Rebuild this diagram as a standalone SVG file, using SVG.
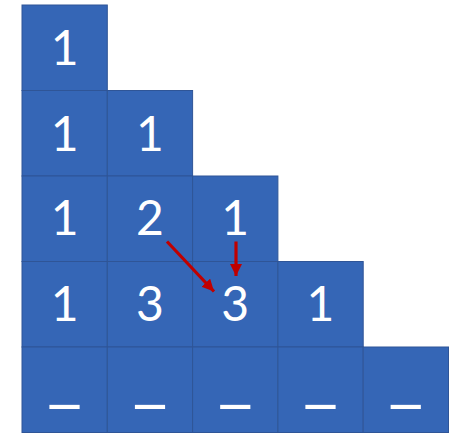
<svg xmlns="http://www.w3.org/2000/svg" width="463" height="446" viewBox="0 0 463 446">
<style>
.c{fill:#3566B6;stroke:#2F5597;stroke-width:1}
.t{font-family:Lato,"DejaVu Sans",sans-serif;font-size:48px;fill:#fff;text-anchor:middle}
.u{font-family:"DejaVu Sans",sans-serif;font-size:58px;fill:#fff;text-anchor:middle}
.a{stroke:#C00000;stroke-width:3.2;fill:none}
</style>
<defs>
<marker id="ah" markerUnits="userSpaceOnUse" markerWidth="14" markerHeight="14" refX="12" refY="6" orient="auto">
<path d="M0,0 L12,6 L0,12 Z" fill="#C00000"/>
</marker>
</defs>
<g id="r0c0"><rect class="c" x="22" y="5" width="85.3" height="85.5"/><text class="t" x="64.6" y="65">1</text></g>
<g id="r1c0"><rect class="c" x="22" y="90.5" width="85.3" height="85.5"/><text class="t" x="64.6" y="150.5">1</text></g>
<g id="r1c1"><rect class="c" x="107.3" y="90.5" width="85.3" height="85.5"/><text class="t" x="149.9" y="150.5">1</text></g>
<g id="r2c0"><rect class="c" x="22" y="176" width="85.3" height="85.5"/><text class="t" x="64.6" y="234.5">1</text></g>
<g id="r2c1"><rect class="c" x="107.3" y="176" width="85.3" height="85.5"/><text class="t" x="149.9" y="234.5">2</text></g>
<g id="r2c2"><rect class="c" x="192.6" y="176" width="85.3" height="85.5"/><text class="t" x="235.2" y="234.5">1</text></g>
<g id="r3c0"><rect class="c" x="22" y="261.5" width="85.3" height="85.5"/><text class="t" x="64.6" y="320.5">1</text></g>
<g id="r3c1"><rect class="c" x="107.3" y="261.5" width="85.3" height="85.5"/><text class="t" x="149.9" y="320.5">3</text></g>
<g id="r3c2"><rect class="c" x="192.6" y="261.5" width="85.3" height="85.5"/><text class="t" x="235.2" y="320.5">3</text></g>
<g id="r3c3"><rect class="c" x="277.9" y="261.5" width="85.3" height="85.5"/><text class="t" x="320.5" y="320.5">1</text></g>
<g id="r4c0"><rect class="c" x="22" y="347" width="85.3" height="85.5"/><text class="u" x="64.6" y="394.7">_</text></g>
<g id="r4c1"><rect class="c" x="107.3" y="347" width="85.3" height="85.5"/><text class="u" x="149.9" y="394.7">_</text></g>
<g id="r4c2"><rect class="c" x="192.6" y="347" width="85.3" height="85.5"/><text class="u" x="235.2" y="394.7">_</text></g>
<g id="r4c3"><rect class="c" x="277.9" y="347" width="85.3" height="85.5"/><text class="u" x="320.5" y="394.7">_</text></g>
<g id="r4c4"><rect class="c" x="363.2" y="347" width="85.3" height="85.5"/><text class="u" x="405.8" y="394.7">_</text></g>
<g id="connectors">
<line class="a" x1="167" y1="241.5" x2="214" y2="291.5" marker-end="url(#ah)"/>
<line class="a" x1="236" y1="241.5" x2="236" y2="276" marker-end="url(#ah)"/>
</g>
</svg>
